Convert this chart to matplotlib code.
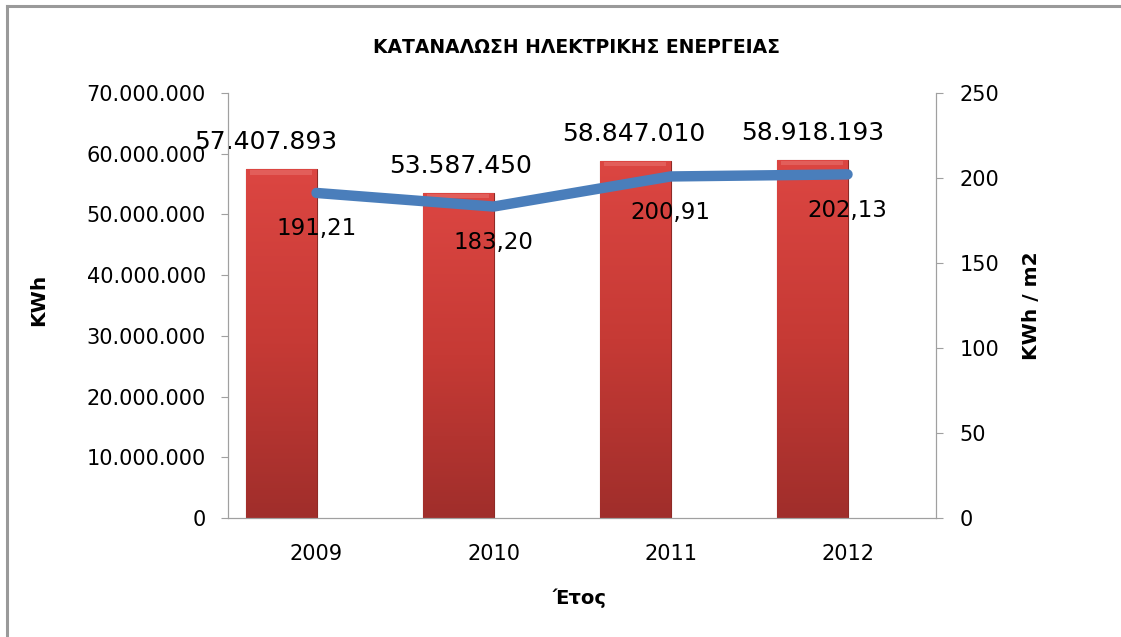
import numpy as np
import matplotlib
matplotlib.use("Agg")
from matplotlib import pyplot as plt
from matplotlib.colors import LinearSegmentedColormap
from matplotlib.lines import Line2D

# data
years = ["2009", "2010", "2011", "2012"]
kwh = [57407893, 53587450, 58847010, 58918193]
kwh_per_m2 = [191.21, 183.20, 200.91, 202.13]
left_ticks = [0, 10000000, 20000000, 30000000, 40000000, 50000000, 60000000, 70000000]
right_ticks = [0, 50, 100, 150, 200, 250]

plt.rcParams['font.family'] = ['DejaVu Sans']


def dotted(v):
    return f"{v:,}".replace(",", ".")


fig = plt.figure(figsize=(11.21, 6.37), dpi=100)
ax = fig.add_axes([0.2034, 0.1868, 0.6316, 0.6672])
ax2 = ax.twinx()
ax.set_zorder(1)
ax2.set_zorder(2)
ax.patch.set_visible(False)

x = np.arange(len(years))
# bars sit in the left half of each category slot (excel cluster offset)
bars = ax.bar(x - 0.2, kwh, width=0.4, color="#C0392F", edgecolor="#8E2A26", linewidth=0.8, zorder=2)

# red vertical gradient inside each bar
grad = LinearSegmentedColormap.from_list("red", ["#A02E2B", "#C63A35", "#DC4642"])
for b in bars:
    bx, by, bw, bh = b.get_x(), b.get_y(), b.get_width(), b.get_height()
    img = ax.imshow(np.linspace(0, 1, 256).reshape(-1, 1), cmap=grad, origin="lower",
                    extent=[bx, bx + bw, by, by + bh], aspect="auto", zorder=2.5)
    img.set_clip_path(b)
    # bevel highlight at the top
    ax.fill_between([bx + bw * 0.06, bx + bw * 0.94], by + bh - 0.012 * 7e7, by + bh - 0.002 * 7e7,
                    color="#E8706B", alpha=0.6, zorder=2.6, linewidth=0)

ax.set_xlim(-0.5, len(years) - 0.5)
ax.set_ylim(0, 70000000)
ax.set_yticks(left_ticks)
ax.set_yticklabels([dotted(v) for v in left_ticks])
ax.set_xticks(x)
ax.set_xticklabels(years)

ax2.plot(x, kwh_per_m2, color="#4A7EBB", linewidth=7.5, solid_capstyle="round", zorder=3)
ax2.set_ylim(0, 250)
ax2.set_yticks(right_ticks)

label_dx = [-15, 2, -1, 1]
for i, v in enumerate(kwh):
    ax.annotate(dotted(v), (x[i] - 0.2, v), xytext=(label_dx[i], 27), textcoords="offset pixels",
                ha="center", va="center", fontsize=18, zorder=5)
for i, v in enumerate(kwh_per_m2):
    ax2.annotate(f"{v:.2f}".replace(".", ","), (x[i], v), xytext=(0, -36), textcoords="offset pixels",
                 ha="center", va="center", fontsize=16.5, zorder=5)

for a in (ax, ax2):
    for s in a.spines.values():
        s.set_color("#A0A0A0")
    a.spines["top"].set_visible(False)
ax.tick_params(axis="y", labelsize=15, length=5, color="#A0A0A0", pad=11)
ax.tick_params(axis="x", labelsize=15, length=0, pad=19)
ax2.tick_params(axis="y", labelsize=15, length=5, color="#A0A0A0", pad=12)

ax.set_ylabel("KWh", fontsize=14.5, fontweight="bold")
ax.yaxis.set_label_coords(-0.254, 0.513)
ax2.set_ylabel("KWh / m2", fontsize=14.5, fontweight="bold")
ax2.yaxis.set_label_coords(1.122, 0.499)
ax.set_xlabel("Έτος", fontsize=14, fontweight="bold")
ax.xaxis.set_label_coords(0.497, -0.165)

fig.text(0.514, 0.926, "ΚΑΤΑΝΑΛΩΣΗ ΗΛΕΚΤΡΙΚΗΣ ΕΝΕΡΓΕΙΑΣ", ha="center", va="center",
         fontsize=13.5, fontweight="bold")

# chart frame (left and top edges visible)
fig.add_artist(Line2D([0.0062, 0.0062], [0, 0.991], color="#9A9A9A", linewidth=2.2))
fig.add_artist(Line2D([0.0062, 1.0], [0.991, 0.991], color="#9A9A9A", linewidth=2.2))

fig.savefig("out.png", dpi=100)
